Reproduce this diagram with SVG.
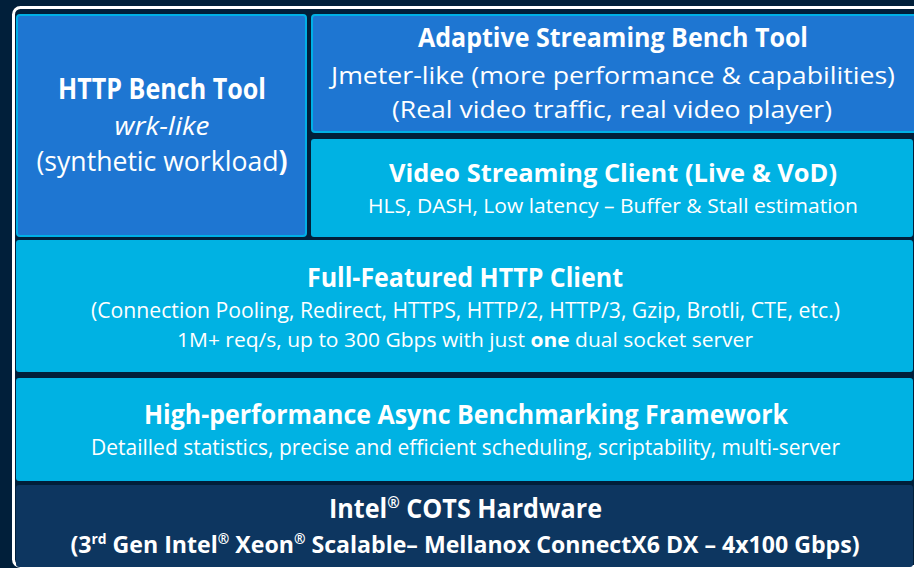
<svg xmlns="http://www.w3.org/2000/svg" width="914" height="568" viewBox="0 0 914 568">
<style>
  text { font-family: "Open Sans", "Noto Sans", "Liberation Sans", sans-serif; fill: #ffffff; text-anchor: middle; }
  .b { font-weight: 700; }
  .it { font-style: italic; }
  .blue { fill: #1e76d2; stroke: #00b0e6; stroke-width: 2; }
  .cyan { fill: #00b2e3; }
  .navy { fill: #0d3660; }
  .sup { font-size: 60%; }
</style>
<rect x="0" y="0" width="914" height="568" fill="#011f3a"/>
<rect x="13.5" y="7.5" width="920" height="559" rx="7" fill="none" stroke="#ffffff" stroke-width="3"/>

<g id="http-bench-tool">
  <rect class="blue" x="17" y="15" width="289" height="221" rx="3"/>
  <text class="b" x="162" y="99" font-size="28" textLength="208" lengthAdjust="spacingAndGlyphs">HTTP Bench Tool</text>
  <text class="it" x="162" y="135" font-size="26" textLength="95" lengthAdjust="spacingAndGlyphs">wrk-like</text>
  <text x="162" y="171" font-size="28" textLength="251" lengthAdjust="spacingAndGlyphs">(synthetic workload<tspan class="b">)</tspan></text>
</g>

<g id="adaptive-streaming-bench-tool">
  <rect class="blue" x="312" y="15" width="610" height="117" rx="3"/>
  <text class="b" x="613" y="47" font-size="26" textLength="390" lengthAdjust="spacingAndGlyphs">Adaptive Streaming Bench Tool</text>
  <text x="613" y="84" font-size="24" textLength="564" lengthAdjust="spacingAndGlyphs">Jmeter-like (more performance &amp; capabilities)</text>
  <text x="612" y="118" font-size="24" textLength="440" lengthAdjust="spacingAndGlyphs">(Real video traffic, real video player)</text>
</g>

<g id="video-streaming-client">
  <rect class="cyan" x="311" y="139" width="602" height="98" rx="3"/>
  <text class="b" x="613" y="182" font-size="25" textLength="448" lengthAdjust="spacingAndGlyphs">Video Streaming Client (Live &amp; VoD)</text>
  <text x="613" y="213" font-size="20" textLength="490" lengthAdjust="spacingAndGlyphs">HLS, DASH, Low latency – Buffer &amp; Stall estimation</text>
</g>

<g id="full-featured-http-client">
  <rect class="cyan" x="16" y="240" width="897" height="132" rx="3"/>
  <text class="b" x="465" y="287" font-size="26" textLength="316" lengthAdjust="spacingAndGlyphs">Full-Featured HTTP Client</text>
  <text x="465.5" y="318" font-size="22" textLength="749" lengthAdjust="spacingAndGlyphs">(Connection  Pooling, Redirect, HTTPS, HTTP/2, HTTP/3, Gzip, Brotli, CTE, etc.)</text>
  <text x="465" y="347" font-size="20" textLength="576" lengthAdjust="spacingAndGlyphs">1M+ req/s, up to 300 Gbps with just <tspan class="b">one</tspan> dual socket server</text>
</g>

<g id="async-benchmarking-framework">
  <rect class="cyan" x="16" y="378" width="897" height="103" rx="3"/>
  <text class="b" x="466" y="424" font-size="26" textLength="644" lengthAdjust="spacingAndGlyphs">High-performance Async Benchmarking Framework</text>
  <text x="465.5" y="455" font-size="21" textLength="749" lengthAdjust="spacingAndGlyphs">Detailled statistics, precise and efficient scheduling, scriptability, multi-server</text>
</g>

<g id="intel-cots-hardware">
  <rect class="navy" x="16" y="485" width="897" height="82" rx="3"/>
  <text class="b" x="465.5" y="518" font-size="26" textLength="273" lengthAdjust="spacingAndGlyphs">Intel<tspan class="sup" dy="-10">®</tspan><tspan dy="10"> COTS Hardware</tspan></text>
  <text class="b" x="465" y="553" font-size="24" textLength="789" lengthAdjust="spacingAndGlyphs">(3<tspan class="sup" dy="-9">rd</tspan><tspan dy="9"> Gen Intel</tspan><tspan class="sup" dy="-9">®</tspan><tspan dy="9"> Xeon</tspan><tspan class="sup" dy="-9">®</tspan><tspan dy="9"> Scalable– Mellanox ConnectX6 DX – 4x100 Gbps)</tspan></text>
</g>

<g id="connectors"/>
</svg>
